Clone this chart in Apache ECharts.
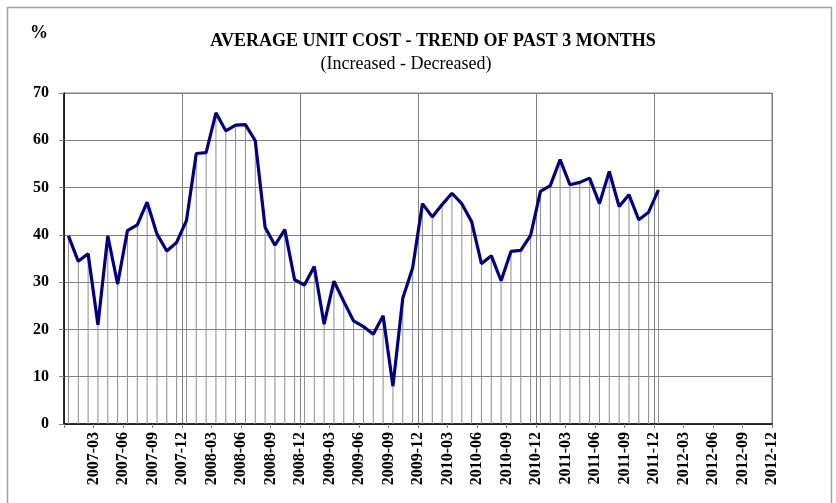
<!DOCTYPE html>
<html>
<head>
<meta charset="utf-8">
<script src="https://cdn.jsdelivr.net/npm/echarts@6/dist/echarts.min.js"></script>
<style>
  html, body { margin: 0; padding: 0; background: #fff; }
  #main { width: 836px; height: 503px; }
</style>
</head>
<body>
<div id="main"></div>
<script>
// monthly readings, Dec 2006 .. Dec 2011
const months = [
  "2006-12", "2007-01", "2007-02", "2007-03", "2007-04", "2007-05", "2007-06",
  "2007-07", "2007-08", "2007-09", "2007-10", "2007-11", "2007-12",
  "2008-01", "2008-02", "2008-03", "2008-04", "2008-05", "2008-06",
  "2008-07", "2008-08", "2008-09", "2008-10", "2008-11", "2008-12",
  "2009-01", "2009-02", "2009-03", "2009-04", "2009-05", "2009-06",
  "2009-07", "2009-08", "2009-09", "2009-10", "2009-11", "2009-12",
  "2010-01", "2010-02", "2010-03", "2010-04", "2010-05", "2010-06",
  "2010-07", "2010-08", "2010-09", "2010-10", "2010-11", "2010-12",
  "2011-01", "2011-02", "2011-03", "2011-04", "2011-05", "2011-06",
  "2011-07", "2011-08", "2011-09", "2011-10", "2011-11", "2011-12"
];
const values = [
  39.8, 34.4, 36.0, 21.0, 39.8, 29.6, 40.9, 42.1, 46.9, 40.2, 36.6, 38.4, 43.0,
  57.2, 57.4, 65.8, 62.0, 63.2, 63.3, 59.9, 41.6, 37.8, 41.1, 30.5,
  29.4, 33.3, 21.1, 30.2, 25.9, 21.8, 20.6, 19.0, 22.9, 8.0, 26.6, 33.0,
  46.6, 43.8, 46.4, 48.8, 46.6, 42.8, 33.9, 35.6, 30.3, 36.5, 36.7, 39.9,
  49.2, 50.4, 55.9, 50.6, 51.1, 52.0, 46.6, 53.4, 46.0, 48.5, 43.2, 44.8, 49.5
];
const axisStart = "2006-12"; // left edge of the date axis
const axisMonths = 72;       // through 2012-12
const tickLabelStep = 3;
const yTicks = [0, 10, 20, 30, 40, 50, 60, 70];

function monthIndex(s) {
  const [y, m] = s.split("-").map(Number);
  const [y0, m0] = axisStart.split("-").map(Number);
  return (y - y0) * 12 + (m - m0);
}
function monthLabel(i) {
  const [y0, m0] = axisStart.split("-").map(Number);
  const t = y0 * 12 + (m0 - 1) + i;
  const y = Math.floor(t / 12), m = (t % 12) + 1;
  return y + "-" + (m < 10 ? "0" + m : m);
}

// points sit mid-month on the date axis (dated the 15th)
const pts = months.map((mo, i) => [monthIndex(mo) + 14 / 31, values[i]]);

const serif = "'Liberation Serif', 'Times New Roman', serif";

const chart = echarts.init(document.getElementById("main"));
chart.setOption({
  backgroundColor: "#fff",
  animation: false,
  graphic: [
    { type: "rect", shape: { x: 7.5, y: 7.5, width: 824, height: 505 },
      style: { fill: "none", stroke: "#a0a0a0", lineWidth: 1.5 }, z: -1 },
    { type: "text", left: 30, top: 24,
      style: { text: "%", font: "bold 18px " + serif, fill: "#000" } },
    { type: "text", x: 406, y: 64,
      style: { text: "(Increased - Decreased)", font: "18px " + serif, fill: "#000",
               textAlign: "center", textVerticalAlign: "middle" } }
  ],
  title: {
    text: "AVERAGE UNIT COST - TREND OF PAST 3 MONTHS",
    left: 428, top: 27, textAlign: "center",
    textStyle: { fontFamily: serif, fontWeight: "bold", fontSize: 18, color: "#000" }
  },
  grid: {
    left: 64, right: 64, top: 93, bottom: 79,
    show: true, borderColor: "#808080", borderWidth: 1
  },
  xAxis: [
    {
      type: "value", min: 0, max: axisMonths, interval: tickLabelStep,
      axisLine: { lineStyle: { color: "#000", width: 1.5 } },
      axisTick: { length: 4, lineStyle: { color: "#808080" } },
      splitLine: { show: false },
      axisLabel: {
        rotate: 90, margin: 8, color: "#000",
        fontFamily: serif, fontWeight: "bold", fontSize: 16,
        formatter: v => (v === 0 ? "" : monthLabel(v))
      }
    },
    {
      type: "value", min: 0, max: axisMonths, interval: 12,
      axisLine: { show: false }, axisTick: { show: false }, axisLabel: { show: false },
      splitLine: { show: true, lineStyle: { color: "#808080" } }
    }
  ],
  yAxis: {
    type: "value", min: yTicks[0], max: yTicks[yTicks.length - 1], interval: 10,
    axisLine: { show: true, lineStyle: { color: "#000", width: 1.5 } },
    axisTick: { show: true, length: 5, lineStyle: { color: "#808080" } },
    splitLine: { lineStyle: { color: "#808080" } },
    axisLabel: {
      margin: 15, color: "#000",
      fontFamily: serif, fontWeight: "bold", fontSize: 16
    }
  },
  series: [
    {
      type: "bar", xAxisIndex: 0, data: pts, barWidth: 1,
      itemStyle: { color: "#8c8c8c" }, silent: true, z: 1
    },
    {
      type: "line", xAxisIndex: 0, data: pts, symbol: "none",
      lineStyle: { color: "#000080", width: 3.2 }, z: 3
    }
  ]
});
</script>
</body>
</html>
